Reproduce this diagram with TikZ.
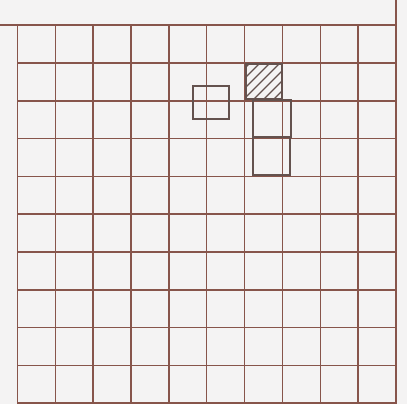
\documentclass[tikz,border=0pt]{standalone}
\definecolor{gridbrown}{RGB}{135,85,75}
\definecolor{shapebrown}{RGB}{100,82,78}
\definecolor{paper}{RGB}{244,243,243}
\tikzset{
  gridline/.style={draw=gridbrown, line width=1.5pt},
  shapebox/.style={draw=shapebrown, line width=2.5pt},
  hatchline/.style={draw=shapebrown, line width=1.1pt}
}
\begin{document}
\begin{tikzpicture}[x=1pt,y=-1pt]
\fill[paper] (0,0) rectangle (407,404);
\useasboundingbox (0,0) rectangle (407,404);
% grid
\foreach \x in {17.5,55.3,93.2,131,168.9,206.7,244.6,282.4,320.3,358.1,396} {
  \draw[gridline] (\x,25) -- (\x,404);
}
\draw[gridline] (396,0) -- (396,25);
\draw[gridline] (0,25) -- (396,25);
\foreach \y in {63,100.8,138.6,176.4,214.2,252,289.8,327.6,365.4,403} {
  \draw[gridline] (17.5,\y) -- (396,\y);
}
% small square
\draw[shapebox] (193,86) rectangle (229,119);
% hatched square
\begin{scope}
  \clip (246,64) rectangle (282,99);
  \foreach \k in {4,14,...,84} {
    \draw[hatchline] (246+\k-36,99) -- (246+\k,63);
  }
\end{scope}
\draw[shapebox] (246,64) rectangle (282,99);
% stacked rectangles
\draw[shapebox] (253,100) rectangle (291,137);
\draw[shapebox] (253,137) rectangle (290,175);
\end{tikzpicture}
\end{document}
